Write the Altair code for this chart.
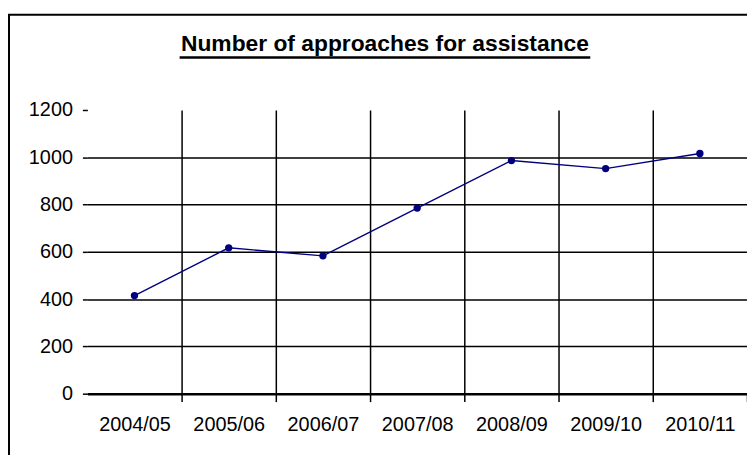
import altair as alt
import pandas as pd

years = ["2004/05", "2005/06", "2006/07", "2007/08", "2008/09", "2009/10", "2010/11"]
approaches = [415, 617, 583, 785, 986, 952, 1016]
y_ticks = [0, 200, 400, 600, 800, 1000, 1200]
title_text = "Number of approaches for assistance"

FONT = "Liberation Sans"
W, H = 665, 286

df = pd.DataFrame({"year": years, "approaches": approaches})

x_enc = alt.X(
    "year:N", sort=years, title=None,
    scale=alt.Scale(paddingInner=0, paddingOuter=0),
    axis=alt.Axis(
        labelAngle=0, labelFontSize=20, labelFont=FONT, labelColor="black",
        labelPadding=13,
        tickBand="extent", ticks=True, tickSize=8, tickColor="black", tickWidth=1.5,
        tickOpacity={"condition": {"test": "datum.extra", "value": 0}, "value": 1},
        grid=True, gridColor="black", gridWidth=1.5,
        gridOpacity={"condition": {"test": "datum.extra || datum.index == 1", "value": 0}, "value": 1},
        domain=True, domainColor="black", domainWidth=2.5,
    ),
)
y_enc = alt.Y(
    "approaches:Q", title=None,
    scale=alt.Scale(domain=[0, 1200], nice=False),
    axis=alt.Axis(
        values=y_ticks, format="d", labelFontSize=20, labelFont=FONT, labelColor="black",
        labelPadding=10, tickSize=5, tickColor="black", tickWidth=1.5,
        domain=False, grid=True, gridColor="black", gridWidth=1.5,
        gridOpacity={"condition": {"test": "datum.value == 1200", "value": 0}, "value": 1},
    ),
)

base = alt.Chart(df).encode(x=x_enc, y=y_enc)
line = base.mark_line(color="#000080", strokeWidth=1.4)
pts = base.mark_circle(color="#000080", size=55, opacity=1)

tdf = pd.DataFrame({"t": [title_text]})
title = alt.Chart(tdf).mark_text(
    fontSize=23, fontWeight="bold", font=FONT, align="center", baseline="alphabetic", color="black"
).encode(text="t:N", x=alt.value(300), y=alt.value(-59))
underline = alt.Chart(tdf).mark_rule(color="black", strokeWidth=2.5).encode(
    x=alt.value(93), x2=alt.value(507), y=alt.value(-53)
)
frame = alt.Chart(tdf).mark_rect(fillOpacity=0, stroke="black", strokeWidth=2).encode(
    x=alt.value(-79), x2=alt.value(720), y=alt.value(-96), y2=alt.value(420)
)

chart = alt.layer(frame, line, pts, title, underline).properties(
    width=W, height=H,
    autosize=alt.AutoSizeParams(type="none"),
    padding={"left": 80, "top": 101, "right": 0, "bottom": 60},
).configure_view(stroke=None)

chart.save("out.html", embed_options={"renderer": "svg", "actions": False})
